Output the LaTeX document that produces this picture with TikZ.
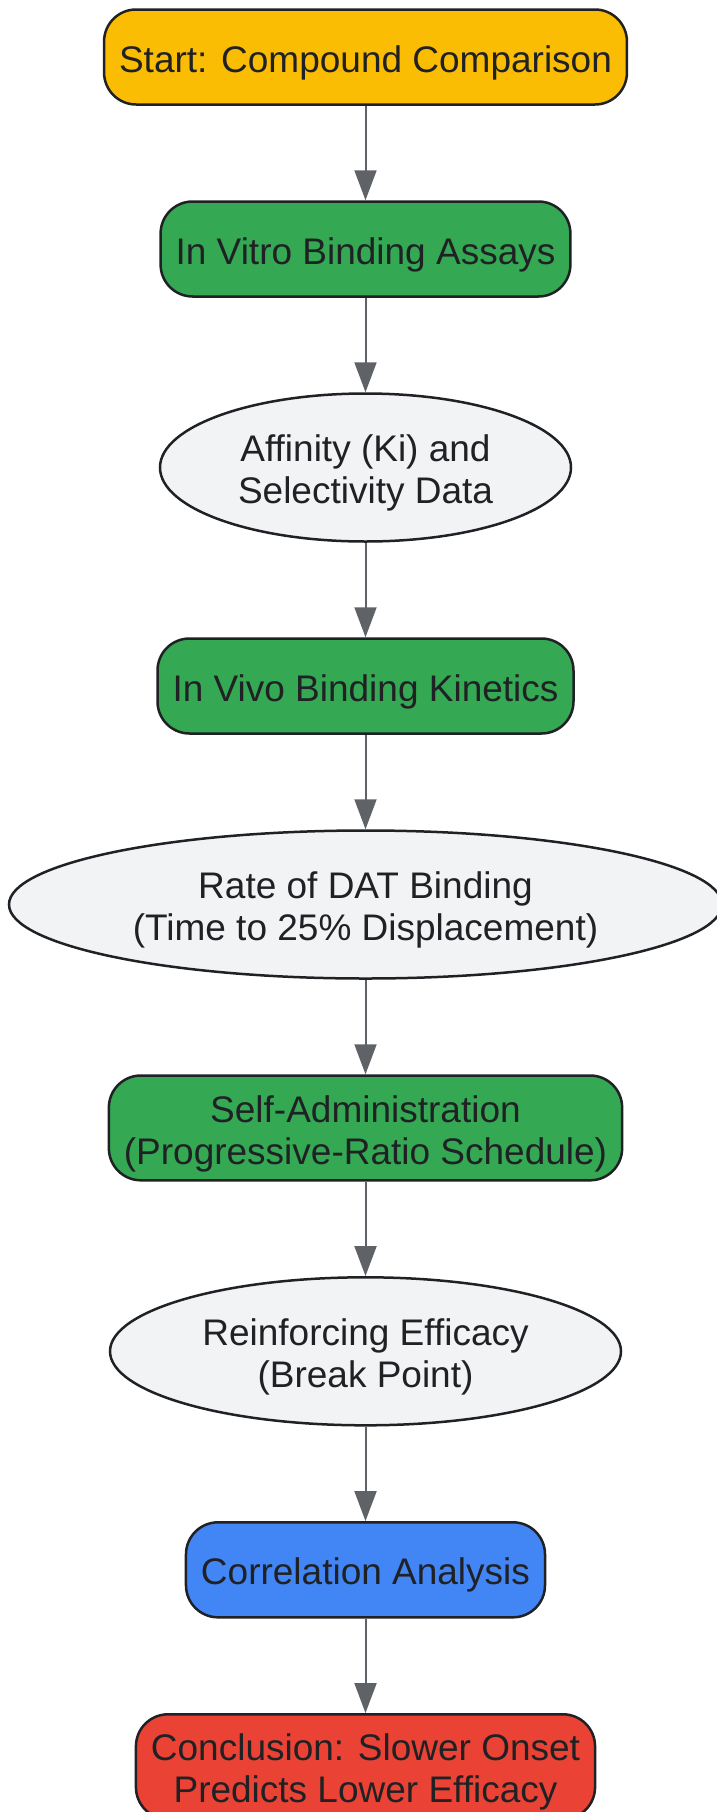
\documentclass[tikz,border=0pt]{standalone}
\usepackage{fontspec}
\setmainfont{Liberation Sans}
\usetikzlibrary{positioning,shapes.geometric,arrows.meta}

\definecolor{ink}{HTML}{202124}
\definecolor{wire}{HTML}{5F6368}
\definecolor{startfill}{HTML}{FBBC04}
\definecolor{stepfill}{HTML}{34A853}
\definecolor{datafill}{HTML}{F1F3F4}
\definecolor{analysisfill}{HTML}{4285F4}
\definecolor{endfill}{HTML}{EA4335}

% full ascender height for the first line of a label
\newcommand{\firstline}{\rule{0pt}{38pt}}

\begin{document}
\begin{tikzpicture}[x=1pt,y=1pt,-{Triangle[length=30pt,width=22pt]},node distance=94.5pt,
  every node/.style={font=\fontsize{37}{42}\selectfont,text=ink,draw=ink,line width=2.5pt,align=center,
    execute at end node={\rule[-7.8pt]{0pt}{7.8pt}}},
  every edge/.style={draw=wire,line width=2pt},
  box/.style={rectangle,rounded corners=32pt,minimum height=95pt,inner xsep=15pt,inner ysep=8.5pt},
  startbox/.style={box,fill=startfill},
  stepbox/.style={box,fill=stepfill},
  analysisbox/.style={box,fill=analysisfill},
  endbox/.style={box,fill=endfill},
  databox/.style={ellipse,fill=datafill,inner sep=0pt,minimum height=148pt}]

\useasboundingbox (0,0) rectangle (717,-1812);

\node[startbox](start) at (365.5,-57){\firstline Start: Compound Comparison};
\node[stepbox](vitro)[below=of start]{\firstline In Vitro Binding Assays};
\node[databox,minimum width=411pt](affinity)[below=of vitro]{\firstline Affinity (Ki) and\\Selectivity Data};
\node[stepbox](vivo)[below=of affinity]{\firstline In Vivo Binding Kinetics};
\node[databox,minimum width=713pt](rate)[below=of vivo]{\firstline Rate of DAT Binding\\(Time to 25\% Displacement)};
\node[stepbox](selfadmin)[below=of rate]{\firstline Self-Administration\\(Progressive-Ratio Schedule)};
\node[databox,minimum width=511pt](efficacy)[below=of selfadmin]{\firstline Reinforcing Efficacy\\(Break Point)};
\node[analysisbox](corr)[below=of efficacy]{\firstline Correlation Analysis};
\node[endbox](concl)[below=of corr]{\firstline Conclusion: Slower Onset\\Predicts Lower Efficacy};

\path(start)edge(vitro)
	(vitro)edge(affinity)
	(affinity)edge(vivo)
	(vivo)edge(rate)
	(rate)edge(selfadmin)
	(selfadmin)edge(efficacy)
	(efficacy)edge(corr)
	(corr)edge(concl);

\end{tikzpicture}
\end{document}
